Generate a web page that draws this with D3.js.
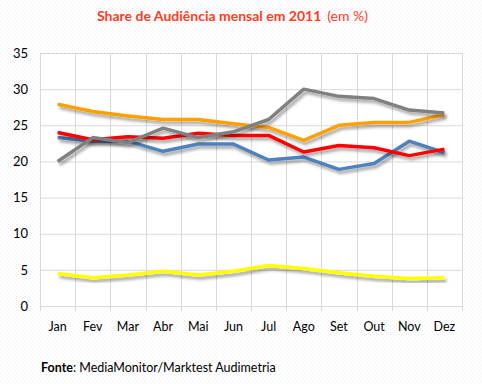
<!DOCTYPE html>
<html><head><meta charset="utf-8">
<script src="https://cdn.jsdelivr.net/npm/d3@7"></script>
<style>
html,body{margin:0;padding:0;background:#fff;}
svg{display:block;}
</style></head>
<body>
<svg id="c" width="482" height="384"></svg>
<script>
const months = ["Jan","Fev","Mar","Abr","Mai","Jun","Jul","Ago","Set","Out","Nov","Dez"];
const yTicks = [0,5,10,15,20,25,30,35];
const blueVals   = [23.3,22.8,22.8,21.4,22.4,22.4,20.2,20.6,18.9,19.7,22.8,21.2];
const redVals    = [24.0,23.0,23.4,23.2,23.9,23.6,23.6,21.3,22.2,21.9,20.8,21.7];
const yellowVals = [4.5,3.9,4.3,4.8,4.3,4.8,5.6,5.2,4.6,4.1,3.8,3.9];
const orangeVals = [27.9,26.9,26.3,25.8,25.8,25.2,24.7,22.9,25.0,25.4,25.4,26.5];
const grayVals   = [20.0,23.3,22.6,24.6,23.3,24.1,25.8,30.0,29.0,28.7,27.1,26.7];
const series = [
  {name:"blue", values: blueVals, color:"#4f81bd"},
  {name:"red", values: redVals, color:"#ff0000"},
  {name:"yellow", values: yellowVals, color:"#ffff00"},
  {name:"orange", values: orangeVals, color:"#ffa000"},
  {name:"gray", values: grayVals, color:"#808080"}
];

const svg = d3.select("#c");
const defs = svg.append("defs");
const pat = defs.append("pattern").attr("id","dots").attr("width",4).attr("height",4).attr("patternUnits","userSpaceOnUse");
pat.append("rect").attr("width",4).attr("height",4).attr("fill","#ffffff");
pat.append("rect").attr("x",0).attr("y",0).attr("width",1).attr("height",1).attr("fill","#ececf2");
pat.append("rect").attr("x",2).attr("y",2).attr("width",1).attr("height",1).attr("fill","#ececf2");
const f = defs.append("filter").attr("id","sh").attr("x","-10%").attr("y","-30%").attr("width","120%").attr("height","160%");
f.append("feDropShadow").attr("dx",2).attr("dy",3).attr("stdDeviation",1.6).attr("flood-color","#000").attr("flood-opacity",0.35);

svg.append("rect").attr("width",482).attr("height",384).attr("fill","url(#dots)");

const L=40, R=462, T=53, B=306;
svg.append("rect").attr("x",L).attr("y",T).attr("width",R-L).attr("height",B-T).attr("fill","#fff");

const x = d3.scaleBand().domain(months).range([L,R]);
const y = d3.scaleLinear().domain([0,35]).range([B,T]);
const font = "Lato, 'Noto Sans', sans-serif";

// horizontal grid
svg.append("g").selectAll("line").data(yTicks).join("line")
  .attr("x1",L).attr("x2",R).attr("y1",d=>y(d)+0.5).attr("y2",d=>y(d)+0.5)
  .attr("stroke","#d9d9d9").attr("stroke-width",1);
// vertical grid
const bounds = months.map(m=>x(m)).concat([R]);
svg.append("g").selectAll("line").data(bounds).join("line")
  .attr("x1",d=>Math.round(d)+0.5).attr("x2",d=>Math.round(d)+0.5).attr("y1",T).attr("y2",B+5)
  .attr("stroke","#d9d9d9").attr("stroke-width",1);

// y axis labels
const yAxis = d3.axisLeft(y).tickValues(yTicks).tickSize(0).tickPadding(0);
const gy = svg.append("g").attr("transform",`translate(${L-12},0)`).call(yAxis);
gy.select(".domain").remove();
gy.selectAll("text").attr("font-family",font).attr("font-size",13).attr("fill","#000");

// x axis labels
const xAxis = d3.axisBottom(x).tickSize(0).tickPadding(0);
const gx = svg.append("g").attr("transform",`translate(0,${B+16})`).call(xAxis);
gx.select(".domain").remove();
gx.selectAll("text").attr("font-family",font).attr("font-size",12.5).attr("fill","#000");

// lines
const line = d3.line().x((d,i)=>x(months[i])+x.bandwidth()/2).y(d=>y(d));
svg.append("g").selectAll("path").data(series).join("path")
  .attr("d",d=>line(d.values)).attr("fill","none").attr("stroke",d=>d.color)
  .attr("stroke-width",3.5).attr("stroke-linejoin","round").attr("stroke-linecap","butt")
  .attr("filter","url(#sh)");

// title
const t = svg.append("text").attr("x",97).attr("y",21).attr("font-family",font).attr("fill","#ff3c1e").attr("font-size",14);
t.append("tspan").attr("font-weight","bold").text("Share de Audiência mensal em 2011");
t.append("tspan").attr("dx",6).attr("font-size",14).text("(em %)");

// footer
const ft = svg.append("text").attr("x",41).attr("y",372).attr("font-family",font).attr("font-size",12.5).attr("fill","#000");
ft.append("tspan").attr("font-weight","bold").text("Fonte");
ft.append("tspan").text(": MediaMonitor/Marktest Audimetria");
</script>
</body></html>
